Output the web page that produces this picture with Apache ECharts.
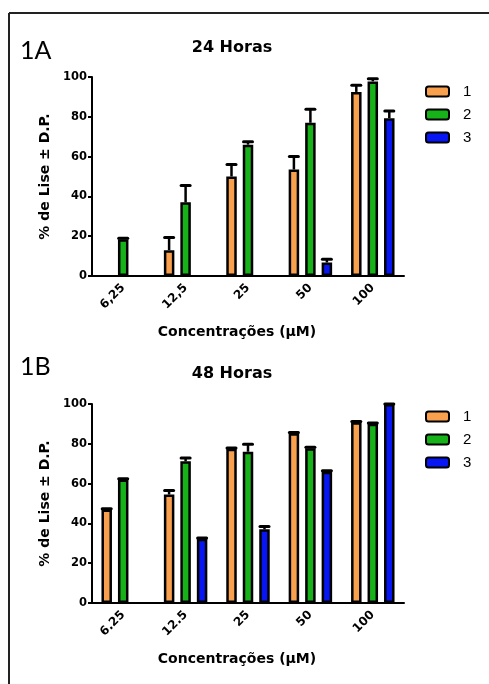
<!DOCTYPE html>
<html><head><meta charset="utf-8">
<script src="https://cdn.jsdelivr.net/npm/echarts@6/dist/echarts.min.js"></script>
<style>html,body{margin:0;padding:0;background:#fff}#c{width:489px;height:684px}</style>
</head><body><div id="c"></div>
<script>
// ---- data ----
const seriesNames = ['1', '2', '3'];
const catsA = ['6,25', '12,5', '25', '50', '100'];
const catsB = ['6.25', '12.5', '25', '50', '100'];
const yTicks = [0, 20, 40, 60, 80, 100];

// 24 Horas (1A)
const a1 = [null, 13, 50, 53.5, 92.5];
const a2 = [18.5, 37, 66, 77, 97.8];
const a3 = [null, null, null, 6.8, 79.3];
const a1Err = [null, 6.3, 6, 6.5, 3.3];
const a2Err = [0.5, 8.5, 1.5, 6.8, 1.3];
const a3Err = [null, null, null, 1.6, 3.6];

// 48 Horas (1B)
const b1 = [47, 54.5, 77.5, 85.3, 90.8];
const b2 = [62, 71.2, 76, 77.8, 90.1];
const b3 = [null, 32.3, 37, 66, 100];
const b1Err = [0.4, 2, 0.4, 0.4, 0.4];
const b2Err = [0.4, 1.7, 3.8, 0.5, 0.4];
const b3Err = [null, 0.4, 1.4, 0.4, 0];

// ---- styling ----
const colors = ['#F9A04E', '#17B119', '#0716F2'];
const offsets = [-16.5, 0, 16.5];
const FONT = 'DejaVu Sans';

const chart = echarts.init(document.getElementById('c'), null, {renderer: 'canvas'});

function gridCfg(top) { return {left: 92, width: 312, top: top, height: 199}; }

function xAxisCfg(idx, cats) {
  return {
    type: 'category', gridIndex: idx, data: cats,
    axisLine: {lineStyle: {color: '#000', width: 2}},
    axisTick: {alignWithLabel: true, length: 5, lineStyle: {color: '#000', width: 2}},
    axisLabel: {rotate: 45, margin: 10, color: '#000', fontWeight: 'bold', fontSize: 12, fontFamily: FONT},
    name: 'Concentrações (µM)', nameLocation: 'middle', nameGap: 49,
    nameTextStyle: {color: '#000', fontWeight: 'bold', fontSize: 14, fontFamily: FONT, padding: [0, 22, 0, 0]}
  };
}
function yAxisCfg(idx) {
  return {
    type: 'value', gridIndex: idx, min: yTicks[0], max: yTicks[yTicks.length - 1], interval: yTicks[1] - yTicks[0],
    splitLine: {show: false},
    axisLine: {show: true, lineStyle: {color: '#000', width: 2}},
    axisTick: {show: true, length: 4, lineStyle: {color: '#000', width: 2}},
    axisLabel: {margin: 5, color: '#000', fontWeight: 'bold', fontSize: 11.5, fontFamily: FONT},
    name: '% de Lise ± D.P.', nameLocation: 'middle', nameGap: 40,
    nameTextStyle: {color: '#000', fontWeight: 'bold', fontSize: 14, fontFamily: FONT}
  };
}

function barSeries(idx, k, vals) {
  return {
    type: 'bar', name: seriesNames[k], xAxisIndex: idx, yAxisIndex: idx,
    data: vals, barWidth: 10.5, barGap: '57%',
    itemStyle: {color: colors[k], borderColor: '#000', borderWidth: 2.5}
  };
}
function errSeries(idx, k, vals, errs) {
  const data = vals.map((v, i) => [i, v == null ? null : v, errs[i] == null ? 0 : errs[i]]);
  return {
    type: 'custom', xAxisIndex: idx, yAxisIndex: idx, z: 5, silent: true,
    data: data,
    renderItem: function (params, api) {
      const v = api.value(1);
      if (v == null || isNaN(v)) return null;
      const e = api.value(2);
      const base = api.coord([api.value(0), v]);
      const top = api.coord([api.value(0), v + e]);
      const x = base[0] + offsets[k];
      return {
        type: 'group', children: [
          {type: 'line', shape: {x1: x, y1: base[1], x2: x, y2: top[1]}, style: {stroke: '#000', lineWidth: 2.5}},
          {type: 'line', shape: {x1: x - 4.5, y1: top[1], x2: x + 4.5, y2: top[1]}, style: {stroke: '#000', lineWidth: 3, lineCap: 'round'}}
        ]
      };
    }
  };
}

function legendCfg(top) {
  return {
    top: top, left: 425, padding: 0, orient: 'vertical', itemWidth: 23, itemHeight: 10, itemGap: 8,
    data: seriesNames,
    itemStyle: {borderColor: '#000', borderWidth: 2},
    textStyle: {color: '#000', fontSize: 15, fontFamily: 'Liberation Sans', padding: [0, 0, 0, 9]},
    selectedMode: false
  };
}

function txt(x, y, s, size, weight, family, align) {
  return {type: 'text', x: x, y: y, style: {text: s, fontSize: size, fontWeight: weight, fontFamily: family, fill: '#000', align: align || 'left', verticalAlign: 'middle'}};
}

const option = {
  animation: false,
  backgroundColor: '#fff',
  grid: [gridCfg(77), gridCfg(404)],
  xAxis: [xAxisCfg(0, catsA), xAxisCfg(1, catsB)],
  yAxis: [yAxisCfg(0), yAxisCfg(1)],
  legend: [legendCfg(84), legendCfg(409)],
  series: [
    barSeries(0, 0, a1), barSeries(0, 1, a2), barSeries(0, 2, a3),
    errSeries(0, 0, a1, a1Err), errSeries(0, 1, a2, a2Err), errSeries(0, 2, a3, a3Err),
    barSeries(1, 0, b1), barSeries(1, 1, b2), barSeries(1, 2, b3),
    errSeries(1, 0, b1, b1Err), errSeries(1, 1, b2, b2Err), errSeries(1, 2, b3, b3Err)
  ],
  graphic: [
    {type: 'line', shape: {x1: 9, y1: 13, x2: 489, y2: 13}, style: {stroke: '#222', lineWidth: 2}},
    {type: 'line', shape: {x1: 9, y1: 13, x2: 9, y2: 684}, style: {stroke: '#222', lineWidth: 2}},
    txt(20, 51, '1A', 25, 'normal', 'Lato'),
    txt(20, 367, '1B', 25, 'normal', 'Lato'),
    txt(232, 48, '24 Horas', 16, 'bold', FONT, 'center'),
    txt(232, 374, '48 Horas', 16, 'bold', FONT, 'center')
  ]
};
chart.setOption(option);
</script></body></html>
